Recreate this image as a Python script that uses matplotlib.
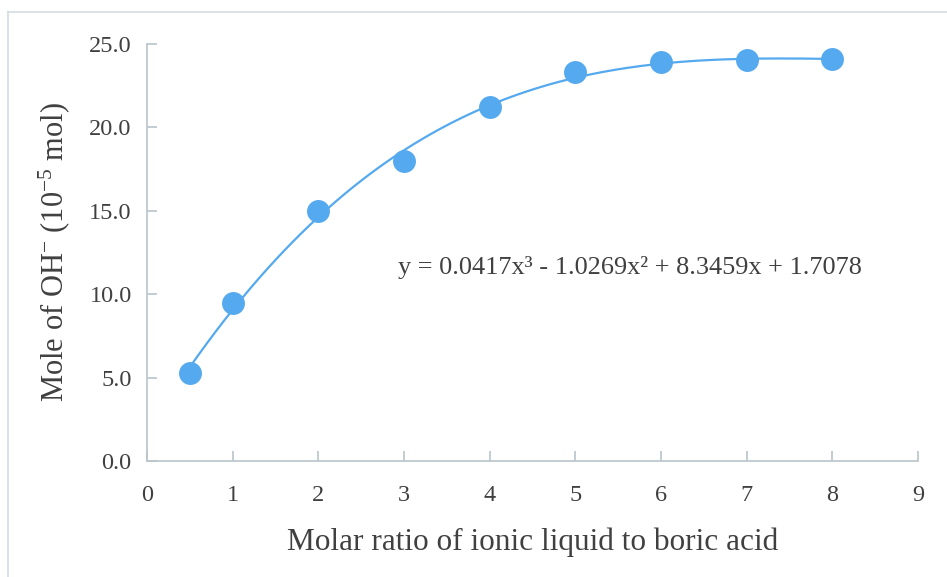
import numpy as np
import matplotlib
matplotlib.use("Agg")
import matplotlib.pyplot as plt
from matplotlib.lines import Line2D

# Data
ratio = [0.5, 1, 2, 3, 4, 5, 6, 7, 8]
oh_mole = [5.25, 9.5, 15.0, 18.0, 21.25, 23.3, 23.9, 24.05, 24.1]
coeffs = [0.0417, -1.0269, 8.3459, 1.7078]
x_ticks = [0, 1, 2, 3, 4, 5, 6, 7, 8, 9]
y_ticks = [0.0, 5.0, 10.0, 15.0, 20.0, 25.0]
equation = "y = 0.0417x\u00b3 - 1.0269x\u00b2 + 8.3459x + 1.7078"

plt.rcParams['font.family'] = ['Liberation Serif', 'DejaVu Serif']
plt.rcParams['mathtext.fontset'] = 'custom'
plt.rcParams['mathtext.rm'] = 'Liberation Serif'
plt.rcParams['mathtext.it'] = 'Liberation Serif:italic'

W, H = 947, 577
fig = plt.figure(figsize=(W / 100, H / 100), dpi=100)
fig.patch.set_facecolor('white')

# outer frame lines (left and top visible)
frame_col = '#d3dde0'
fig.add_artist(Line2D([8 / W, 8 / W], [0, 1 - 12 / H], transform=fig.transFigure, color=frame_col, lw=1.2))
fig.add_artist(Line2D([8 / W, 1], [1 - 12 / H, 1 - 12 / H], transform=fig.transFigure, color=frame_col, lw=1.2))

ax = fig.add_axes([147 / W, 1 - 461 / H, (918 - 147) / W, (461 - 44) / H])
blue = '#55a9ee'
text_col = '#404040'
spine_col = '#b9c5c9'

xs = np.linspace(min(ratio), max(ratio), 300)
ax.plot(xs, np.polyval(coeffs, xs), color=blue, lw=1.6, zorder=2)
ax.plot(ratio, oh_mole, 'o', color=blue, markersize=16.5, markeredgewidth=0, zorder=3)

ax.set_xlim(0, 9)
ax.set_ylim(0, 25)
ax.set_xticks(x_ticks)
ax.set_yticks(y_ticks)
ax.set_xticklabels([str(t) for t in x_ticks])
ax.set_yticklabels([f"{t:.1f}" for t in y_ticks])

for s in ['top', 'right']:
    ax.spines[s].set_visible(False)
for s in ['left', 'bottom']:
    ax.spines[s].set_color(spine_col)
    ax.spines[s].set_linewidth(1.2)
ax.tick_params(direction='in', length=7, width=1.2, color=spine_col,
               labelsize=17.5, labelcolor=text_col)
ax.tick_params(axis='x', pad=17)
ax.tick_params(axis='y', pad=11)

ax.set_xlabel('Molar ratio of ionic liquid to boric acid', fontsize=22.5, color=text_col, labelpad=16)
ax.set_ylabel(r'Mole of OH$^{-}$ (10$^{-5}$ mol)', fontsize=22, color=text_col, labelpad=12)

ax.text(2.93, 11.6, equation, fontsize=18.9, color=text_col, ha='left', va='center')

fig.savefig('out.png', dpi=100, facecolor='white')
